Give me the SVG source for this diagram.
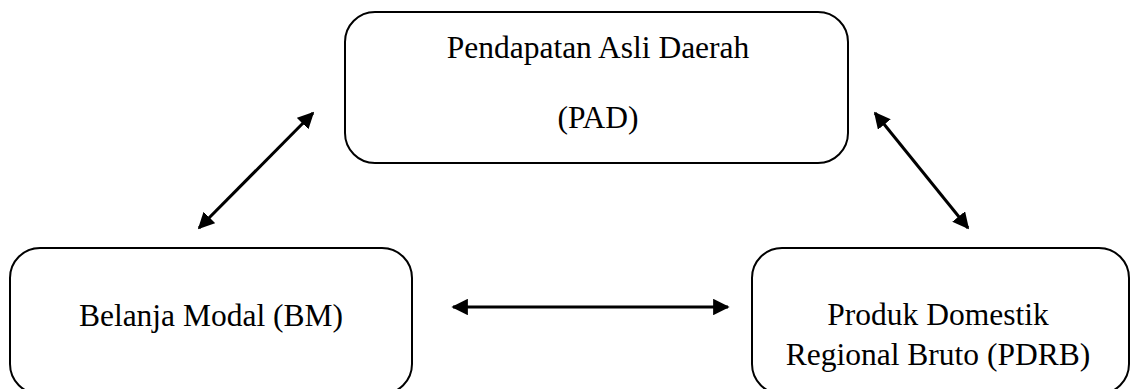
<svg xmlns="http://www.w3.org/2000/svg" width="1131" height="389" viewBox="0 0 1131 389">
<style>
.box{fill:#fff;stroke:#000;stroke-width:2}
.t{font-family:"Liberation Serif","Times New Roman",serif;font-size:31.5px;fill:#000;text-anchor:middle}
.c{stroke:#000;stroke-width:3;fill:none;marker-start:url(#ah);marker-end:url(#ah)}
</style>
<defs>
<marker id="ah" viewBox="0 0 10 10" refX="9" refY="5" markerWidth="5.5" markerHeight="5.5" orient="auto-start-reverse" markerUnits="strokeWidth">
<path d="M0,0 L10,5 L0,10 z" fill="#000"/>
</marker>
</defs>
<g id="pad">
<rect class="box" x="345" y="12" width="503" height="151" rx="30"/>
<text class="t" x="598" y="58">Pendapatan Asli Daerah</text>
<text class="t" x="598" y="128">(PAD)</text>
</g>
<g id="bm">
<rect class="box" x="10" y="248" width="402" height="146" rx="30"/>
<text class="t" x="211" y="326">Belanja Modal (BM)</text>
</g>
<g id="pdrb">
<rect class="box" x="752" y="248" width="377" height="146" rx="30"/>
<text class="t" x="938" y="325">Produk Domestik</text>
<text class="t" x="938" y="365">Regional Bruto (PDRB)</text>
</g>
<g id="connectors">
<line class="c" x1="199" y1="228" x2="313" y2="113"/>
<line class="c" x1="875" y1="113" x2="968" y2="228"/>
<line class="c" x1="453" y1="307" x2="728" y2="307"/>
</g>
</svg>
